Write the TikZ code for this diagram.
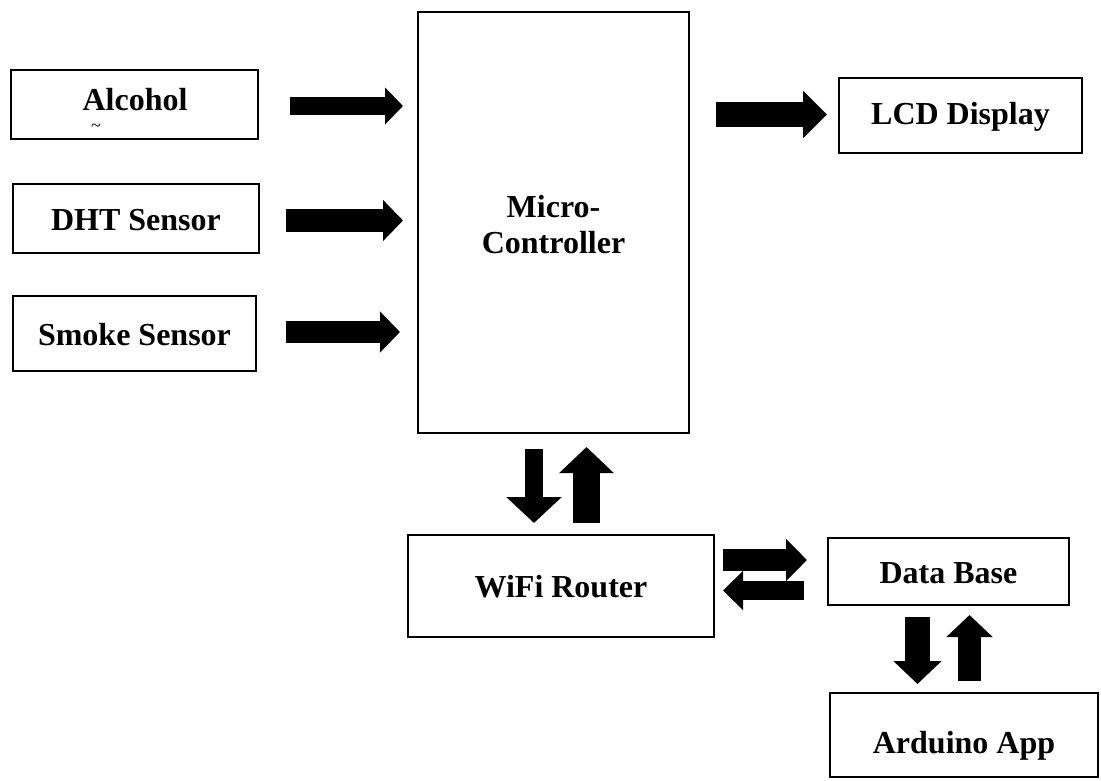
\documentclass[tikz,border=0pt]{standalone}
\usepackage{fontspec}
\setmainfont{Liberation Serif}
\usetikzlibrary{arrows.meta}
\begin{document}
\begin{tikzpicture}[x=1pt,y=-1pt,
  box/.style={draw=black,line width=1.3pt,inner sep=0pt},
  lbl/.style={anchor=base,inner sep=0pt,font=\fontsize{32}{36}\bfseries\selectfont},
  blk/.style args={#1/#2/#3}{line width=#1pt,-{Triangle[width=#2pt 0,length=#3pt 0]}}
]
\useasboundingbox (0,0) rectangle (1101,781);
% boxes
\node[box,minimum width=247pt,minimum height=69pt] (alc) at (134.5,104.5) {};
\node[box,minimum width=246pt,minimum height=69pt] (dht) at (136,218.5) {};
\node[box,minimum width=243pt,minimum height=75pt] (smk) at (134.5,333.5) {};
\node[box,minimum width=271pt,minimum height=421pt] (mcu) at (553.5,222.5) {};
\node[box,minimum width=243pt,minimum height=75pt] (lcd) at (960.5,115.5) {};
\node[box,minimum width=306pt,minimum height=102pt] (wifi) at (561,586) {};
\node[box,minimum width=241pt,minimum height=67pt] (db) at (948.5,571.5) {};
\node[box,minimum width=268pt,minimum height=84pt] (app) at (964,735) {};
% labels
\node[lbl] (talc) at (135,111) {Alcohol};
\node[inner sep=0pt,font=\fontsize{18}{18}\selectfont] (ttil) at (96,128) {\textasciitilde};
\node[lbl] (tdht) at (136,230) {DHT Sensor};
\node[lbl] (tsmk) at (134.5,345) {Smoke Sensor};
\node[lbl] (tmcu1) at (553.5,217) {Micro-};
\node[lbl] (tmcu2) at (553.5,253) {Controller};
\node[lbl] (tlcd) at (960.5,125) {LCD Display};
\node[lbl] (twifi) at (561,597) {WiFi Router};
\node[lbl] (tdb) at (948.5,583) {Data Base};
\node[lbl] (tapp) at (964,753) {Arduino App};
% arrow end points
\coordinate (a1s) at (290,106);   \coordinate (a1e) at (403,106);
\coordinate (a2s) at (286,220.5); \coordinate (a2e) at (403,220.5);
\coordinate (a3s) at (286,332);   \coordinate (a3e) at (400,332);
\coordinate (a4s) at (716,114.5); \coordinate (a4e) at (827,114.5);
\coordinate (a5s) at (534,449);   \coordinate (a5e) at (534,523);
\coordinate (a6s) at (586.5,523); \coordinate (a6e) at (586.5,447);
\coordinate (a7s) at (723,560);   \coordinate (a7e) at (807,560);
\coordinate (a8s) at (804,590.5); \coordinate (a8e) at (723,590.5);
\coordinate (a9s) at (917.5,617); \coordinate (a9e) at (917.5,684);
\coordinate (a10s) at (969.5,681);\coordinate (a10e) at (969.5,615);
% block arrows
\draw[blk=18/36/18] (a1s) -- (a1e);
\draw[blk=23/40/20] (a2s) -- (a2e);
\draw[blk=22/40/20] (a3s) -- (a3e);
\draw[blk=25/46/24] (a4s) -- (a4e);
\draw[blk=18/54/26] (a5s) -- (a5e);
\draw[blk=27/53/26] (a6s) -- (a6e);
\draw[blk=22/41/21] (a7s) -- (a7e);
\draw[blk=19/38/20] (a8s) -- (a8e);
\draw[blk=25/47/23] (a9s) -- (a9e);
\draw[blk=23/45/22] (a10s) -- (a10e);
\end{tikzpicture}
\end{document}
